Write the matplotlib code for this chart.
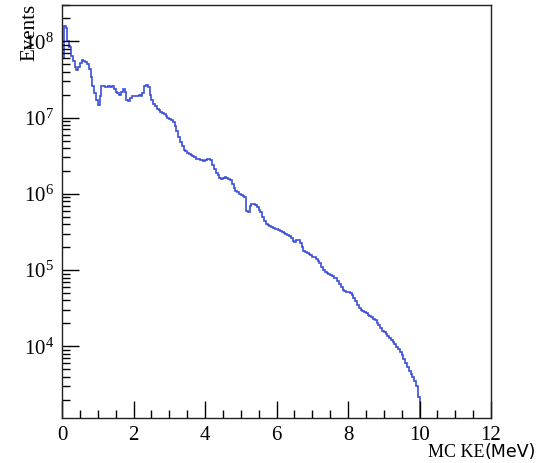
import matplotlib
matplotlib.use('Agg')

import matplotlib.pyplot as plt
from matplotlib.ticker import LogLocator, MultipleLocator, NullFormatter
import numpy as np

# MC kinetic energy spectrum, 0.05 MeV bins from 0 to 10 MeV (counts per bin)
bin_width = 0.05
events = [
    6.0e7, 1.6e8, 1.5e8, 1.0e8, 8.5e7, 6.5e7, 5.5e7, 4.6e7, 4.2e7, 4.6e7,      # 0.0 - 0.5
    5.2e7, 5.7e7, 5.6e7, 5.3e7, 5.0e7, 4.4e7, 3.4e7, 2.6e7, 2.1e7, 1.7e7,      # 0.5 - 1.0
    1.45e7, 1.9e7, 2.6e7, 2.6e7, 2.5e7, 2.5e7, 2.6e7, 2.5e7, 2.6e7, 2.4e7,     # 1.0 - 1.5
    2.2e7, 2.1e7, 2.0e7, 2.2e7, 2.4e7, 2.2e7, 1.7e7, 1.65e7, 1.8e7, 1.9e7,     # 1.5 - 2.0
    1.9e7, 1.9e7, 1.95e7, 2.0e7, 1.9e7, 2.1e7, 2.6e7, 2.7e7, 2.5e7, 2.0e7,     # 2.0 - 2.5
    1.7e7, 1.5e7, 1.4e7, 1.3e7, 1.25e7, 1.2e7, 1.15e7, 1.1e7, 1.05e7, 1.0e7,   # 2.5 - 3.0
    9.6e6, 9.2e6, 8.8e6, 7.8e6, 6.6e6, 5.6e6, 4.8e6, 4.2e6, 3.8e6, 3.6e6,      # 3.0 - 3.5
    3.4e6, 3.3e6, 3.2e6, 3.1e6, 3.0e6, 2.9e6, 2.85e6, 2.8e6, 2.75e6, 2.7e6,    # 3.5 - 4.0
    2.75e6, 2.85e6, 2.9e6, 2.8e6, 2.4e6, 2.1e6, 1.9e6, 1.75e6, 1.6e6, 1.55e6,  # 4.0 - 4.5
    1.6e6, 1.65e6, 1.6e6, 1.55e6, 1.5e6, 1.35e6, 1.2e6, 1.1e6, 1.05e6, 1.0e6,  # 4.5 - 5.0
    9.6e5, 9.4e5, 9.2e5, 6.0e5, 5.8e5, 7.0e5, 7.4e5, 7.4e5, 7.2e5, 6.8e5,      # 5.0 - 5.5
    6.2e5, 5.8e5, 5.0e5, 4.4e5, 4.0e5, 3.9e5, 3.8e5, 3.7e5, 3.6e5, 3.5e5,      # 5.5 - 6.0
    3.45e5, 3.4e5, 3.3e5, 3.2e5, 3.1e5, 3.0e5, 2.9e5, 2.8e5, 2.6e5, 2.4e5,     # 6.0 - 6.5
    2.35e5, 2.5e5, 2.5e5, 2.3e5, 2.0e5, 1.8e5, 1.72e5, 1.68e5, 1.62e5, 1.56e5, # 6.5 - 7.0
    1.5e5, 1.47e5, 1.42e5, 1.32e5, 1.23e5, 1.1e5, 1.0e5, 9.5e4, 9.2e4, 8.9e4,  # 7.0 - 7.5
    8.6e4, 8.3e4, 8.0e4, 7.8e4, 7.2e4, 6.5e4, 6.0e4, 5.5e4, 5.3e4, 5.2e4,      # 7.5 - 8.0
    5.1e4, 5.0e4, 4.7e4, 4.3e4, 3.9e4, 3.5e4, 3.2e4, 3.0e4, 2.9e4, 2.8e4,      # 8.0 - 8.5
    2.7e4, 2.6e4, 2.5e4, 2.4e4, 2.3e4, 2.2e4, 2.05e4, 1.9e4, 1.75e4, 1.6e4,    # 8.5 - 9.0
    1.55e4, 1.45e4, 1.35e4, 1.27e4, 1.2e4, 1.13e4, 1.06e4, 9.8e3, 9.2e3, 8.4e3, # 9.0 - 9.5
    7.6e3, 6.8e3, 6.0e3, 5.4e3, 4.8e3, 4.3e3, 4.0e3, 3.5e3, 3.0e3, 2.2e3,      # 9.5 - 10.0
]

x_min, x_max = 0, 12
y_min, y_max = 1.15e3, 3.0e8

edges = np.arange(len(events) + 1) * bin_width

fig = plt.figure(figsize=(5.46, 4.63), dpi=100)
ax = fig.add_axes([62 / 546, 45 / 463, 429 / 546, 413 / 463])

# ROOT style histogram outline
ax.stairs(events, edges, baseline=y_min, color='#3b4fdc', linewidth=1.2)

ax.set_yscale('log')
ax.set_xlim(x_min, x_max)
ax.set_ylim(y_min, y_max)

serif = 'Liberation Serif'

ax.xaxis.set_major_locator(MultipleLocator(2))
ax.xaxis.set_minor_locator(MultipleLocator(0.5))
ax.yaxis.set_major_locator(LogLocator(base=10, numticks=20))
ax.yaxis.set_minor_locator(LogLocator(base=10, subs=np.arange(2, 10), numticks=20))
ax.yaxis.set_minor_formatter(NullFormatter())

ax.tick_params(which='both', direction='in', top=False, right=False)
ax.tick_params(which='major', length=12, width=1, labelsize=15, pad=6)
ax.tick_params(which='minor', length=6, width=1)
for lab in ax.get_xticklabels() + ax.get_yticklabels():
    lab.set_fontfamily(serif)

for sp in ax.spines.values():
    sp.set_linewidth(1)
    sp.set_color('#222222')

# axis titles, placed like in the ROOT canvas
fig.text(30 / 546, 1 - 4 / 463, 'Events', rotation=90, ha='center', va='top',
         fontsize=15, family=serif)
fig.text(485 / 546, 1 - 457 / 463, 'MC KE', ha='right', va='baseline',
         fontsize=13, family=serif)
fig.text(485 / 546, 1 - 457 / 463, '(MeV)', ha='left', va='baseline',
         fontsize=12.5, family='DejaVu Sans')

fig.savefig('out.png', dpi=100)
plt.close(fig)
